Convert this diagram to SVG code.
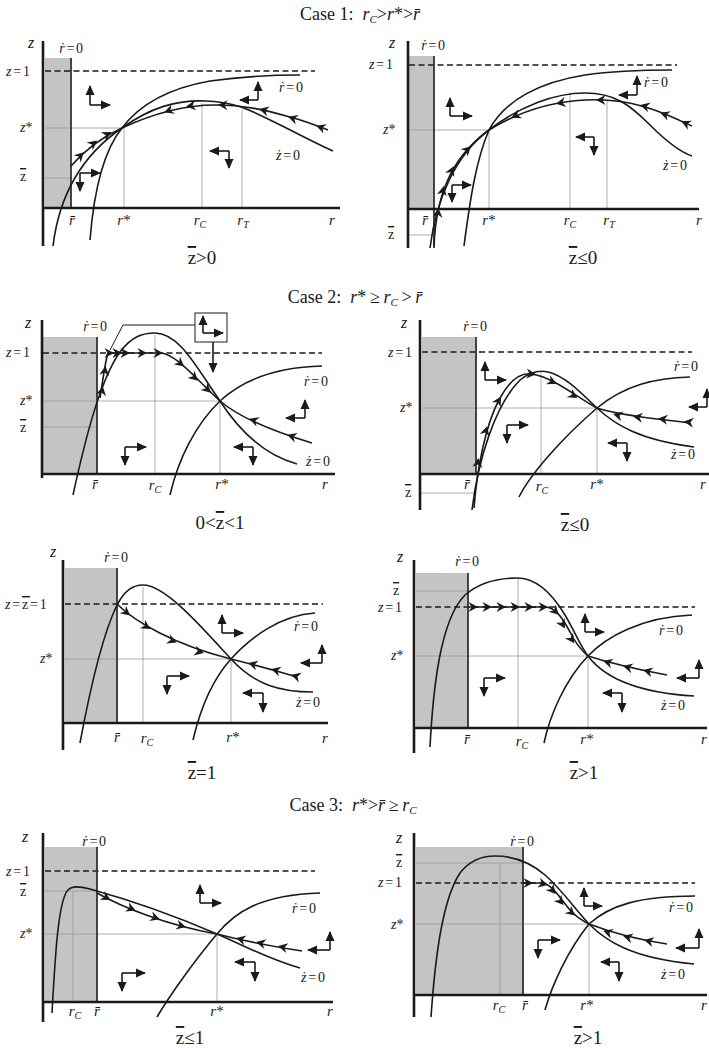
<svg xmlns="http://www.w3.org/2000/svg" width="709" height="1048" viewBox="0 0 709 1048" font-family="Liberation Serif, serif">
<style>
.t{font-family:"Liberation Serif","Times New Roman",serif;fill:#1a1a1a;font-size:14px}
.i{font-style:italic}
.ob{text-decoration:overline}
.ttl{font-size:18px}
.sb{font-size:19px}
.tk{font-size:15px}
.zl{font-size:16px;font-style:italic}
.ls{letter-spacing:1.8px}
.ax{stroke:#1a1a1a;stroke-width:2.6;fill:none}
.cv{stroke:#1a1a1a;stroke-width:1.6;fill:none}
.gd{stroke:#9a9a9a;stroke-width:0.8;fill:none}
.dl{stroke:#1a1a1a;stroke-width:1.6;stroke-dasharray:6 3.5;fill:none}
.sh{fill:#c4c4c4}
.rb{stroke:#333;stroke-width:1.8;fill:none}
.da line{stroke:#1a1a1a;stroke-width:1.6;fill:none;marker-end:url(#tri)}
.bx{stroke:#1a1a1a;stroke-width:1;fill:none}
.na{fill:#1a1a1a}
</style>
<defs>
<marker id="tri" viewBox="0 0 10 10" refX="9" refY="5" markerWidth="10" markerHeight="10" markerUnits="userSpaceOnUse" orient="auto"><path d="M0,0.5 L10,5 L0,9.5 Z" fill="#1a1a1a"/></marker>
<path id="na" class="na" d="M4,0 L-5.5,-5 L-2.5,0 L-5.5,5 Z"/>
</defs>
<rect width="709" height="1048" fill="#fff"/>

<!-- Titles -->
<text class="t ttl" x="360" y="20" text-anchor="middle">Case 1:&#160; <tspan class="i">r</tspan><tspan class="i" font-size="11" dy="3">C</tspan><tspan dy="-3">&gt;</tspan><tspan class="i">r</tspan>*&gt;<tspan class="i">r&#x304;</tspan></text>
<text class="t ttl" x="355" y="303" text-anchor="middle">Case 2:&#160; <tspan class="i">r</tspan>*&#8201;≥&#8201;<tspan class="i">r</tspan><tspan class="i" font-size="11" dy="3">C</tspan><tspan dy="-3">&#8201;&gt;&#8201;</tspan><tspan class="i">r&#x304;</tspan></text>
<text class="t ttl" x="353" y="811" text-anchor="middle">Case 3:&#160; <tspan class="i">r</tspan>*&gt;<tspan class="i">r&#x304;</tspan>&#8201;≥&#8201;<tspan class="i">r</tspan><tspan class="i" font-size="11" dy="3">C</tspan></text>

<!-- Panel 1a -->
<g id="panel-1a">
<rect class="sh" x="45" y="58" width="26" height="150"/>
<path class="gd" d="M45,128 H124 V208 M45,178 H71 M202,103 V208 M242,109 V208"/>
<line class="dl" x1="45" y1="71" x2="315" y2="71"/>
<line class="rb" x1="71" y1="58" x2="71" y2="208"/>
<path class="cv" d="M90,240 C94,190 104,150 122,128 C140,104 170,88 210,81 C245,76 275,75 300,75"/>
<path class="cv" d="M53,246 C58,205 75,160 122,128 C150,108 175,100 205,101 C235,102 250,110 270,120 C295,132 315,143 333,151"/>
<path class="cv" d="M71,166 C85,150 100,138 122,128 C150,115 180,105 215,105 C245,105 265,110 290,117 C305,121 318,126 328,130"/>
<path class="ax" d="M43,41 V246 M43,208 H340"/>
<use href="#na" transform="translate(81,155) rotate(-45)"/>
<use href="#na" transform="translate(94,143) rotate(-38)"/>
<use href="#na" transform="translate(108,134) rotate(-28)"/>
<use href="#na" transform="translate(168,111) rotate(160)"/>
<use href="#na" transform="translate(190,106) rotate(172)"/>
<use href="#na" transform="translate(222,105) rotate(182)"/>
<use href="#na" transform="translate(263,110) rotate(195)"/>
<use href="#na" transform="translate(292,118) rotate(198)"/>
<use href="#na" transform="translate(320,127) rotate(200)"/>
<g class="da">
<line x1="90" y1="105" x2="90" y2="86"/><line x1="90" y1="105" x2="110" y2="105"/>
<line x1="258" y1="100" x2="258" y2="82"/><line x1="258" y1="100" x2="240" y2="100"/>
<line x1="229" y1="151" x2="210" y2="151"/><line x1="229" y1="151" x2="229" y2="168"/>
<line x1="80" y1="173" x2="100" y2="173"/><line x1="80" y1="173" x2="80" y2="191"/>
</g>
<text class="t zl" x="28" y="48">z</text>
<text class="t ls" x="72" y="53" text-anchor="middle"><tspan class="i">ṙ</tspan>=0</text>
<text class="t ls" x="6" y="76"><tspan class="i">z</tspan>=1</text>
<text class="t" x="20" y="132"><tspan class="i">z</tspan>*</text>
<text class="t ob" x="20" y="181">z</text>
<text class="t i tk" x="72" y="225" text-anchor="middle">r&#x304;</text>
<text class="t tk" x="124" y="225" text-anchor="middle"><tspan class="i">r</tspan>*</text>
<text class="t i tk" x="200" y="225" text-anchor="middle">r<tspan font-size="10" dy="3">C</tspan></text>
<text class="t i tk" x="243" y="225" text-anchor="middle">r<tspan font-size="10" dy="3">T</tspan></text>
<text class="t i tk" x="332" y="225" text-anchor="middle">r</text>
<text class="t ls" x="279" y="92"><tspan class="i">ṙ</tspan>=0</text>
<text class="t ls" x="276" y="160"><tspan class="i">ż</tspan>=0</text>
<text class="t sb" x="202" y="264" text-anchor="middle"><tspan class="ob">z</tspan>&gt;0</text>
</g>

<!-- Panel 1b -->
<g id="panel-1b">
<rect class="sh" x="409" y="56" width="25" height="153"/>
<path class="gd" d="M409,130 H489 V209 M408,235 H434 M570,93 V209 M607,101 V209"/>
<line class="dl" x1="409" y1="65" x2="677" y2="65"/>
<line class="rb" x1="434" y1="56" x2="434" y2="248"/>
<path class="cv" d="M464,246 C470,200 476,160 489,130 C505,100 540,82 585,75 C620,70 650,70 672,70"/>
<path class="cv" d="M430,248 C436,200 455,155 489,130 C520,106 555,93 585,93 C615,93 630,105 650,125 C665,140 680,152 692,156"/>
<path class="cv" d="M434,246 C436,200 448,160 489,130 C515,114 545,102 585,100 C620,98 645,106 665,114 C675,118 685,123 692,126"/>
<path class="ax" d="M408,41 V248 M408,209 H699"/>
<use href="#na" transform="translate(438,212) rotate(-85)"/>
<use href="#na" transform="translate(443,190) rotate(-78)"/>
<use href="#na" transform="translate(452,170) rotate(-65)"/>
<use href="#na" transform="translate(468,149) rotate(-45)"/>
<use href="#na" transform="translate(515,116) rotate(155)"/>
<use href="#na" transform="translate(560,103) rotate(170)"/>
<use href="#na" transform="translate(600,100) rotate(180)"/>
<use href="#na" transform="translate(644,106) rotate(195)"/>
<use href="#na" transform="translate(664,114) rotate(200)"/>
<use href="#na" transform="translate(685,123) rotate(205)"/>
<g class="da">
<line x1="450" y1="116" x2="450" y2="98"/><line x1="450" y1="116" x2="472" y2="116"/>
<line x1="637" y1="95" x2="637" y2="76"/><line x1="637" y1="95" x2="619" y2="95"/>
<line x1="594" y1="137" x2="576" y2="137"/><line x1="594" y1="137" x2="594" y2="155"/>
<line x1="452" y1="185" x2="471" y2="185"/><line x1="452" y1="185" x2="452" y2="202"/>
</g>
<text class="t zl" x="389" y="48">z</text>
<text class="t ls" x="434" y="50" text-anchor="middle"><tspan class="i">ṙ</tspan>=0</text>
<text class="t ls" x="369" y="69"><tspan class="i">z</tspan>=1</text>
<text class="t" x="383" y="134"><tspan class="i">z</tspan>*</text>
<text class="t ob" x="388" y="239">z</text>
<text class="t i tk" x="425" y="225" text-anchor="middle">r&#x304;</text>
<text class="t tk" x="489" y="225" text-anchor="middle"><tspan class="i">r</tspan>*</text>
<text class="t i tk" x="570" y="225" text-anchor="middle">r<tspan font-size="10" dy="3">C</tspan></text>
<text class="t i tk" x="609" y="225" text-anchor="middle">r<tspan font-size="10" dy="3">T</tspan></text>
<text class="t i tk" x="699" y="225" text-anchor="middle">r</text>
<text class="t ls" x="644" y="87"><tspan class="i">ṙ</tspan>=0</text>
<text class="t ls" x="663" y="170"><tspan class="i">ż</tspan>=0</text>
<text class="t sb" x="583" y="264" text-anchor="middle"><tspan class="ob">z</tspan>≤0</text>
</g>

<!-- Panel 2a -->
<g id="panel-2a">
<rect class="sh" x="43" y="337" width="54" height="137"/>
<path class="gd" d="M43,401 H220 V474 M43,427 H97 M155,335 V474"/>
<line class="dl" x1="43" y1="353" x2="322" y2="353"/>
<line class="rb" x1="97" y1="337" x2="97" y2="474"/>
<path class="cv" d="M73,495 C85,440 100,380 120,352 C132,336 143,333 155,333 C180,333 198,370 220,401 C240,432 265,455 297,464"/>
<path class="cv" d="M170,495 C178,460 195,425 220,401 C245,378 280,367 322,366"/>
<path class="cv" d="M100,398 C103,380 105,362 108,353 L160,353 C175,353 195,378 220,401 C240,418 275,432 312,443"/>
<path class="ax" d="M42,320 V478 M42,474 H335"/>
<use href="#na" transform="translate(102,390) rotate(-80)"/>
<use href="#na" transform="translate(105,370) rotate(-82)"/>
<use href="#na" transform="translate(110,353)"/>
<use href="#na" transform="translate(118,353)"/>
<use href="#na" transform="translate(126,353)"/>
<use href="#na" transform="translate(143,353)"/>
<use href="#na" transform="translate(159,353)"/>
<use href="#na" transform="translate(181,364) rotate(40)"/>
<use href="#na" transform="translate(195,378) rotate(42)"/>
<use href="#na" transform="translate(208,390) rotate(43)"/>
<use href="#na" transform="translate(253,420) rotate(200)"/>
<use href="#na" transform="translate(291,436) rotate(198)"/>
<path class="bx" d="M110,350 L123,325 H195"/>
<rect class="bx" x="195" y="313" width="32" height="29"/>
<g class="da">
<line x1="203" y1="333" x2="203" y2="316"/><line x1="203" y1="333" x2="223" y2="333"/>
<line x1="213" y1="342" x2="213" y2="372"/>
<line x1="125" y1="447" x2="146" y2="447"/><line x1="125" y1="447" x2="125" y2="465"/>
<line x1="253" y1="447" x2="234" y2="447"/><line x1="253" y1="447" x2="253" y2="465"/>
<line x1="305" y1="418" x2="305" y2="400"/><line x1="305" y1="418" x2="286" y2="418"/>
</g>
<text class="t zl" x="25" y="328">z</text>
<text class="t ls" x="96" y="331" text-anchor="middle"><tspan class="i">ṙ</tspan>=0</text>
<text class="t ls" x="6" y="357"><tspan class="i">z</tspan>=1</text>
<text class="t" x="20" y="405"><tspan class="i">z</tspan>*</text>
<text class="t ob" x="20" y="432">z</text>
<text class="t i tk" x="95" y="489" text-anchor="middle">r&#x304;</text>
<text class="t i tk" x="155" y="490" text-anchor="middle">r<tspan font-size="10" dy="3">C</tspan></text>
<text class="t tk" x="222" y="489" text-anchor="middle"><tspan class="i">r</tspan>*</text>
<text class="t i tk" x="325" y="489" text-anchor="middle">r</text>
<text class="t ls" x="304" y="386"><tspan class="i">ṙ</tspan>=0</text>
<text class="t ls" x="306" y="466"><tspan class="i">ż</tspan>=0</text>
<text class="t sb" x="220" y="529" text-anchor="middle">0&lt;<tspan class="ob">z</tspan>&lt;1</text>
</g>

<!-- Panel 2b -->
<g id="panel-2b">
<rect class="sh" x="422" y="337" width="54" height="137"/>
<path class="gd" d="M422,408 H597 V474 M420,493 H476 M541,372 V474"/>
<line class="dl" x1="422" y1="352" x2="692" y2="352"/>
<line class="rb" x1="476" y1="337" x2="476" y2="474"/>
<path class="cv" d="M472,510 C478,460 495,405 520,380 C530,372 540,370 548,372 C565,376 580,392 597,408 C615,425 640,440 694,447"/>
<path class="cv" d="M519,497 C530,475 560,440 597,408 C625,385 655,378 690,377"/>
<path class="cv" d="M474,508 C477,470 485,425 500,398 C510,380 520,372 532,374 C555,378 578,398 597,408 C620,416 660,419 690,423"/>
<path class="ax" d="M420,320 V510 M420,474 H709"/>
<use href="#na" transform="translate(478,462) rotate(-83)"/>
<use href="#na" transform="translate(486,430) rotate(-75)"/>
<use href="#na" transform="translate(499,400) rotate(-60)"/>
<use href="#na" transform="translate(532,374) rotate(5)"/>
<use href="#na" transform="translate(553,382) rotate(25)"/>
<use href="#na" transform="translate(574,396) rotate(32)"/>
<use href="#na" transform="translate(617,415) rotate(195)"/>
<use href="#na" transform="translate(637,417) rotate(188)"/>
<use href="#na" transform="translate(662,419) rotate(187)"/>
<use href="#na" transform="translate(688,422) rotate(187)"/>
<g class="da">
<line x1="485" y1="380" x2="485" y2="362"/><line x1="485" y1="380" x2="506" y2="380"/>
<line x1="507" y1="425" x2="528" y2="425"/><line x1="507" y1="425" x2="507" y2="443"/>
<line x1="627" y1="443" x2="608" y2="443"/><line x1="627" y1="443" x2="627" y2="461"/>
<line x1="707" y1="407" x2="707" y2="389"/><line x1="707" y1="407" x2="689" y2="407"/>
</g>
<text class="t zl" x="401" y="328">z</text>
<text class="t ls" x="476" y="331" text-anchor="middle"><tspan class="i">ṙ</tspan>=0</text>
<text class="t ls" x="388" y="357"><tspan class="i">z</tspan>=1</text>
<text class="t" x="400" y="412"><tspan class="i">z</tspan>*</text>
<text class="t ob" x="405" y="497">z</text>
<text class="t i tk" x="467" y="489" text-anchor="middle">r&#x304;</text>
<text class="t i tk" x="542" y="491" text-anchor="middle">r<tspan font-size="10" dy="3">C</tspan></text>
<text class="t tk" x="597" y="489" text-anchor="middle"><tspan class="i">r</tspan>*</text>
<text class="t i tk" x="703" y="489" text-anchor="middle">r</text>
<text class="t ls" x="674" y="371"><tspan class="i">ṙ</tspan>=0</text>
<text class="t ls" x="671" y="459"><tspan class="i">ż</tspan>=0</text>
<text class="t sb" x="575" y="531" text-anchor="middle"><tspan class="ob">z</tspan>≤0</text>
</g>

<!-- Panel 2c -->
<g id="panel-2c">
<rect class="sh" x="65" y="568" width="52" height="155"/>
<path class="gd" d="M65,659 H231 V723 M143,587 V723"/>
<line class="dl" x1="65" y1="604" x2="323" y2="604"/>
<line class="rb" x1="117" y1="568" x2="117" y2="723"/>
<path class="cv" d="M80,743 C88,700 100,640 117,605 C125,590 133,585 143,585 C165,585 200,625 231,659 C255,685 280,692 313,692"/>
<path class="cv" d="M193,740 C200,710 212,680 231,659 C250,638 280,615 315,613"/>
<path class="cv" d="M117,604 C135,622 175,645 231,659 C255,665 280,672 297,677"/>
<path class="ax" d="M63,560 V750 M63,723 H328"/>
<use href="#na" transform="translate(127,613) rotate(40)"/>
<use href="#na" transform="translate(147,627) rotate(32)"/>
<use href="#na" transform="translate(173,641) rotate(22)"/>
<use href="#na" transform="translate(200,652) rotate(15)"/>
<use href="#na" transform="translate(252,664) rotate(196)"/>
<use href="#na" transform="translate(275,670) rotate(196)"/>
<use href="#na" transform="translate(295,676) rotate(197)"/>
<g class="da">
<line x1="222" y1="633" x2="222" y2="615"/><line x1="222" y1="633" x2="243" y2="633"/>
<line x1="167" y1="676" x2="189" y2="676"/><line x1="167" y1="676" x2="167" y2="694"/>
<line x1="263" y1="693" x2="243" y2="693"/><line x1="263" y1="693" x2="263" y2="712"/>
<line x1="322" y1="663" x2="322" y2="645"/><line x1="322" y1="663" x2="301" y2="663"/>
</g>
<text class="t zl" x="50" y="557">z</text>
<text class="t ls" x="117" y="562" text-anchor="middle"><tspan class="i">ṙ</tspan>=0</text>
<text class="t ls" x="5" y="609"><tspan class="i">z</tspan>=<tspan class="ob">z</tspan>=1</text>
<text class="t" x="40" y="663"><tspan class="i">z</tspan>*</text>
<text class="t i tk" x="117" y="742" text-anchor="middle">r&#x304;</text>
<text class="t i tk" x="147" y="743" text-anchor="middle">r<tspan font-size="10" dy="3">C</tspan></text>
<text class="t tk" x="233" y="742" text-anchor="middle"><tspan class="i">r</tspan>*</text>
<text class="t i tk" x="325" y="743" text-anchor="middle">r</text>
<text class="t ls" x="294" y="631"><tspan class="i">ṙ</tspan>=0</text>
<text class="t ls" x="296" y="707"><tspan class="i">ż</tspan>=0</text>
<text class="t sb" x="202" y="779" text-anchor="middle"><tspan class="ob">z</tspan>=1</text>
</g>

<!-- Panel 2d -->
<g id="panel-2d">
<rect class="sh" x="416" y="573" width="52" height="155"/>
<path class="gd" d="M416,591 H468 M416,656 H588 V728 M518,578 V728"/>
<line class="dl" x1="416" y1="607" x2="695" y2="607"/>
<line class="rb" x1="468" y1="573" x2="468" y2="728"/>
<path class="cv" d="M430,747 C433,690 440,620 465,595 C480,582 500,578 517,578 C535,578 550,590 565,615 C575,632 580,645 588,656 C600,672 625,692 694,696"/>
<path class="cv" d="M544,743 C550,715 565,680 588,656 C605,638 640,617 692,615"/>
<path class="cv" d="M468,607 L545,607 C555,607 562,617 570,632 C576,644 582,651 588,656 C610,663 640,670 667,675"/>
<path class="ax" d="M414,560 V753 M414,728 H707"/>
<use href="#na" transform="translate(474,607)"/>
<use href="#na" transform="translate(488,607)"/>
<use href="#na" transform="translate(502,607)"/>
<use href="#na" transform="translate(516,607)"/>
<use href="#na" transform="translate(530,607)"/>
<use href="#na" transform="translate(544,607)"/>
<use href="#na" transform="translate(556,612) rotate(45)"/>
<use href="#na" transform="translate(563,625) rotate(60)"/>
<use href="#na" transform="translate(572,640) rotate(55)"/>
<use href="#na" transform="translate(607,662) rotate(196)"/>
<use href="#na" transform="translate(627,667) rotate(194)"/>
<use href="#na" transform="translate(647,671) rotate(194)"/>
<g class="da">
<line x1="585" y1="632" x2="585" y2="614"/><line x1="585" y1="632" x2="604" y2="632"/>
<line x1="484" y1="678" x2="505" y2="678"/><line x1="484" y1="678" x2="484" y2="696"/>
<line x1="622" y1="693" x2="603" y2="693"/><line x1="622" y1="693" x2="622" y2="712"/>
<line x1="699" y1="678" x2="699" y2="660"/><line x1="699" y1="678" x2="677" y2="678"/>
</g>
<text class="t zl" x="397" y="562">z</text>
<text class="t ls" x="468" y="566" text-anchor="middle"><tspan class="i">ṙ</tspan>=0</text>
<text class="t ob" x="393" y="595">z</text>
<text class="t ls" x="378" y="612"><tspan class="i">z</tspan>=1</text>
<text class="t" x="391" y="660"><tspan class="i">z</tspan>*</text>
<text class="t i tk" x="467" y="744" text-anchor="middle">r&#x304;</text>
<text class="t i tk" x="522" y="746" text-anchor="middle">r<tspan font-size="10" dy="3">C</tspan></text>
<text class="t tk" x="587" y="744" text-anchor="middle"><tspan class="i">r</tspan>*</text>
<text class="t i tk" x="704" y="744" text-anchor="middle">r</text>
<text class="t ls" x="659" y="635"><tspan class="i">ṙ</tspan>=0</text>
<text class="t ls" x="661" y="710"><tspan class="i">ż</tspan>=0</text>
<text class="t sb" x="584" y="779" text-anchor="middle"><tspan class="ob">z</tspan>&gt;1</text>
</g>

<!-- Panel 3a -->
<g id="panel-3a">
<rect class="sh" x="45" y="847" width="52" height="155"/>
<path class="gd" d="M45,891 H97 M45,934 H217 V1002 M73,891 V1002"/>
<line class="dl" x1="45" y1="871" x2="315" y2="871"/>
<line class="rb" x1="97" y1="847" x2="97" y2="1002"/>
<path class="cv" d="M52,1013 C55,960 58,900 68,890 C72,886 78,886 90,889 C130,900 180,918 217,934 C245,946 270,960 300,968"/>
<path class="cv" d="M157,1017 C170,995 195,960 217,934 C235,912 260,895 320,893"/>
<path class="cv" d="M97,893 C120,906 165,925 217,934 C240,940 270,946 302,951"/>
<path class="ax" d="M43,833 V1022 M43,1002 H333"/>
<use href="#na" transform="translate(107,898) rotate(28)"/>
<use href="#na" transform="translate(132,909) rotate(22)"/>
<use href="#na" transform="translate(156,918) rotate(18)"/>
<use href="#na" transform="translate(182,926) rotate(14)"/>
<use href="#na" transform="translate(240,939) rotate(194)"/>
<use href="#na" transform="translate(260,943) rotate(193)"/>
<use href="#na" transform="translate(282,947) rotate(193)"/>
<g class="da">
<line x1="200" y1="903" x2="200" y2="885"/><line x1="200" y1="903" x2="221" y2="903"/>
<line x1="122" y1="973" x2="145" y2="973"/><line x1="122" y1="973" x2="122" y2="991"/>
<line x1="255" y1="962" x2="235" y2="962"/><line x1="255" y1="962" x2="255" y2="981"/>
<line x1="330" y1="950" x2="330" y2="932"/><line x1="330" y1="950" x2="308" y2="950"/>
</g>
<text class="t zl" x="22" y="842">z</text>
<text class="t ls" x="95" y="846" text-anchor="middle"><tspan class="i">ṙ</tspan>=0</text>
<text class="t ls" x="6" y="876"><tspan class="i">z</tspan>=1</text>
<text class="t ob" x="20" y="896">z</text>
<text class="t" x="20" y="938"><tspan class="i">z</tspan>*</text>
<text class="t i tk" x="75" y="1016" text-anchor="middle">r<tspan font-size="10" dy="3">C</tspan></text>
<text class="t i tk" x="97" y="1016" text-anchor="middle">r&#x304;</text>
<text class="t tk" x="217" y="1016" text-anchor="middle"><tspan class="i">r</tspan>*</text>
<text class="t i tk" x="330" y="1016" text-anchor="middle">r</text>
<text class="t ls" x="292" y="913"><tspan class="i">ṙ</tspan>=0</text>
<text class="t ls" x="301" y="982"><tspan class="i">ż</tspan>=0</text>
<text class="t sb" x="190" y="1044" text-anchor="middle"><tspan class="ob">z</tspan>≤1</text>
</g>

<!-- Panel 3b -->
<g id="panel-3b">
<rect class="sh" x="416" y="847" width="107" height="148"/>
<path class="gd" d="M416,863 H523 M416,924 H589 V995 M500,863 V995"/>
<line class="dl" x1="416" y1="883" x2="695" y2="883"/>
<line class="rb" x1="523" y1="847" x2="523" y2="995"/>
<path class="cv" d="M431,1017 C435,960 442,900 460,873 C470,860 482,856 495,856 C512,856 530,862 545,875 C560,888 572,905 589,924 C605,940 630,958 694,964"/>
<path class="cv" d="M545,1010 C552,985 568,950 589,924 C610,905 640,896 695,896"/>
<path class="cv" d="M523,883 L542,883 C552,884 560,898 570,910 C577,918 583,921 589,924 C610,932 640,940 667,944"/>
<path class="ax" d="M414,833 V1017 M414,995 H707"/>
<use href="#na" transform="translate(529,883)"/>
<use href="#na" transform="translate(544,884) rotate(15)"/>
<use href="#na" transform="translate(553,891) rotate(50)"/>
<use href="#na" transform="translate(561,902) rotate(50)"/>
<use href="#na" transform="translate(572,913) rotate(40)"/>
<use href="#na" transform="translate(607,932) rotate(198)"/>
<use href="#na" transform="translate(627,937) rotate(195)"/>
<use href="#na" transform="translate(648,941) rotate(193)"/>
<g class="da">
<line x1="584" y1="906" x2="584" y2="888"/><line x1="584" y1="906" x2="602" y2="906"/>
<line x1="538" y1="940" x2="560" y2="940"/><line x1="538" y1="940" x2="538" y2="958"/>
<line x1="619" y1="962" x2="601" y2="962"/><line x1="619" y1="962" x2="619" y2="981"/>
<line x1="699" y1="948" x2="699" y2="929"/><line x1="699" y1="948" x2="676" y2="948"/>
</g>
<text class="t zl" x="396" y="843">z</text>
<text class="t ls" x="523" y="846" text-anchor="middle"><tspan class="i">ṙ</tspan>=0</text>
<text class="t ob" x="396" y="867">z</text>
<text class="t ls" x="378" y="887"><tspan class="i">z</tspan>=1</text>
<text class="t" x="391" y="929"><tspan class="i">z</tspan>*</text>
<text class="t i tk" x="499" y="1010" text-anchor="middle">r<tspan font-size="10" dy="3">C</tspan></text>
<text class="t i tk" x="525" y="1010" text-anchor="middle">r&#x304;</text>
<text class="t tk" x="587" y="1010" text-anchor="middle"><tspan class="i">r</tspan>*</text>
<text class="t i tk" x="704" y="1010" text-anchor="middle">r</text>
<text class="t ls" x="669" y="912"><tspan class="i">ṙ</tspan>=0</text>
<text class="t ls" x="661" y="979"><tspan class="i">ż</tspan>=0</text>
<text class="t sb" x="588" y="1044" text-anchor="middle"><tspan class="ob">z</tspan>&gt;1</text>
</g>
</svg>
